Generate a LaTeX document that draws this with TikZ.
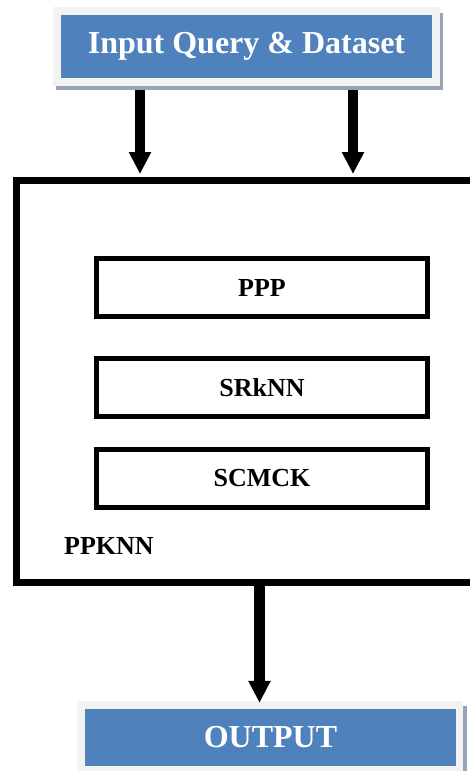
\documentclass[tikz,border=0pt]{standalone}
\usepackage{fontspec}
\setmainfont{Liberation Serif}
\usetikzlibrary{arrows.meta}
\definecolor{boxblue}{HTML}{4F81BD}
\definecolor{framegrey}{HTML}{F2F2F2}
\definecolor{shadowgrey}{HTML}{97A3B4}
\begin{document}
\begin{tikzpicture}[x=1pt,y=-1pt,
  plate/.style={fill=framegrey, draw=none, inner sep=0pt},
  shadowbox/.style={fill=shadowgrey, draw=none, inner sep=0pt},
  bluebox/.style={fill=boxblue, draw=none, text=white, inner sep=0pt,
    font=\fontsize{32}{38}\selectfont\bfseries},
  stage/.style={draw=black, line width=5pt, minimum width=331pt,
    minimum height=58pt, inner sep=0pt,
    font=\fontsize{26}{30}\selectfont\bfseries},
  flow/.style={line width=10pt, -{Triangle[length=22pt,width=21pt]}},
]
\useasboundingbox (0,0) rectangle (470,771);
\clip (0,0) rectangle (470,771);

% input block: shadow, light frame, blue title box
\node[shadowbox, minimum width=387pt, minimum height=77pt] (inshadow) at (249.5,51.5) {};
\node[plate, minimum width=387pt, minimum height=79pt] (inframe) at (246.5,46.5) {};
\node[bluebox, minimum width=371pt, minimum height=63pt] (inbox) at (246.5,46.5) {Input Query \& Dataset};

% main PPKNN container
\node[draw=black, line width=7pt, minimum width=463.5pt, minimum height=402pt, inner sep=0pt]
  (ppknn) at (248.25,381) {};
\node[anchor=base west, inner sep=0pt, font=\fontsize{26}{30}\selectfont\bfseries]
  (ppknnlabel) at (64,554) {PPKNN};

% inner stages
\node[stage] (ppp) at (262,287.5) {PPP};
\node[stage] (srknn) at (262,387.5) {SRkNN};
\node[stage] (scmck) at (262,478.5) {SCMCK};

% output block
\node[shadowbox, minimum width=386pt, minimum height=74pt] (outshadow) at (274,743) {};
\node[plate, minimum width=386pt, minimum height=72pt] (outframe) at (270,737) {};
\node[bluebox, minimum width=371pt, minimum height=57pt] (outbox) at (270.5,737.5) {OUTPUT};

% connectors
\draw[flow, shorten >=2.5pt] ([xshift=-106.5pt,yshift=-4pt]inframe.south) -- ([xshift=-108.25pt]ppknn.north);
\draw[flow, shorten >=2.5pt] ([xshift=106.5pt,yshift=-4pt]inframe.south) -- ([xshift=104.75pt]ppknn.north);
\draw[flow, line width=11pt, shorten >=-2pt] ([xshift=11.25pt]ppknn.south) -- ([xshift=-10.5pt]outframe.north);
\end{tikzpicture}
\end{document}
